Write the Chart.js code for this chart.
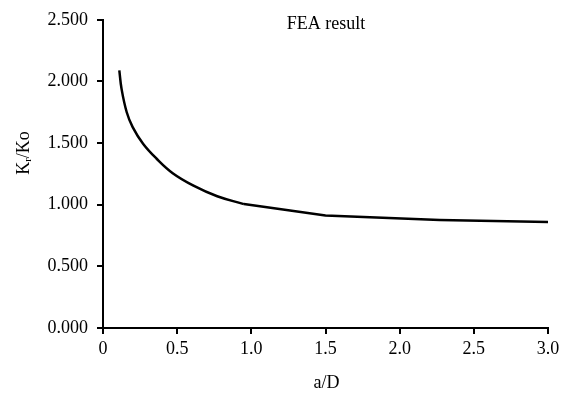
<!DOCTYPE html>
<html lang="en">
<head>
    <meta charset="UTF-8">
    <title>FEA result</title>
    <script src="https://cdn.jsdelivr.net/npm/chart.js"></script>
    <style>
        html, body { margin: 0; padding: 0; background: #fff; }
        #wrap { width: 564px; height: 396px; }
    </style>
</head>
<body>
    <div id="wrap"><canvas id="feaChart"></canvas></div>

    <script>
        // data
        const ratioAD = [0.11, 0.125, 0.16, 0.2, 0.27, 0.36, 0.47, 0.61, 0.77, 0.95, 1.5, 2.27, 3.0];
        const kRatio = [2.09, 1.94, 1.75, 1.63, 1.495, 1.375, 1.256, 1.155, 1.069, 1.005, 0.912, 0.876, 0.86];
        const xTicks = [0, 0.5, 1.0, 1.5, 2.0, 2.5, 3.0];
        const yTicks = [0, 0.5, 1.0, 1.5, 2.0, 2.5];
        // the curve is smooth up to this point, straight pieces after it
        const smoothEnd = 9;

        const serif = "'Liberation Serif', 'Times New Roman', serif";
        const pts = ratioAD.map((x, i) => ({ x: x, y: kRatio[i] }));

        // axis titles and the in-plot label, drawn by hand (subscript r)
        const labelsPlugin = {
            id: 'labels',
            afterDraw(chart) {
                const ctx = chart.ctx;
                const area = chart.chartArea;
                ctx.save();
                ctx.fillStyle = '#000';
                ctx.textBaseline = 'middle';
                ctx.textAlign = 'center';
                ctx.font = '18px ' + serif;
                ctx.fillText('FEA result', 326, 24);
                ctx.fillText('a/D', (area.left + area.right) / 2 + 1, 383);

                // y title: K_r/Ko rotated
                ctx.translate(24, 153);
                ctx.rotate(-Math.PI / 2);
                ctx.textAlign = 'left';
                const wK = ctx.measureText('K').width;
                ctx.font = '11px ' + serif;
                const wr = ctx.measureText('r').width;
                ctx.font = '18px ' + serif;
                const wRest = ctx.measureText('/Ko').width;
                let x0 = -(wK + wr + wRest) / 2;
                ctx.fillText('K', x0, 0);
                ctx.font = '11px ' + serif;
                ctx.fillText('r', x0 + wK, 4);
                ctx.font = '18px ' + serif;
                ctx.fillText('/Ko', x0 + wK + wr, 0);
                ctx.restore();
            }
        };

        const lineStyle = {
            borderColor: '#000',
            borderWidth: 2.5,
            pointRadius: 0,
            fill: false
        };

        const ctx = document.getElementById('feaChart').getContext('2d');
        new Chart(ctx, {
            type: 'line',
            data: {
                datasets: [
                    Object.assign({ data: pts.slice(0, smoothEnd + 1), tension: 0.4 }, lineStyle),
                    Object.assign({ data: pts.slice(smoothEnd), tension: 0 }, lineStyle)
                ]
            },
            options: {
                responsive: true,
                maintainAspectRatio: false,
                animation: false,
                layout: { padding: { top: 17, right: 16, left: 0, bottom: 0 } },
                plugins: {
                    legend: { display: false },
                    tooltip: { enabled: false }
                },
                scales: {
                    x: {
                        type: 'linear',
                        min: 0,
                        max: 3,
                        afterBuildTicks: (scale) => { scale.ticks = xTicks.map(v => ({ value: v })); },
                        afterFit: (scale) => { scale.height = 68; },
                        ticks: {
                            color: '#000',
                            font: { family: serif, size: 18 },
                            padding: 4,
                            maxRotation: 0,
                            callback: (v) => v === 0 ? '0' : v.toFixed(1)
                        },
                        grid: { drawOnChartArea: false, drawTicks: true, tickLength: 6, color: '#000', lineWidth: 2 },
                        border: { color: '#000', width: 2 }
                    },
                    y: {
                        min: 0,
                        max: 2.5,
                        afterBuildTicks: (scale) => { scale.ticks = yTicks.map(v => ({ value: v })); },
                        afterFit: (scale) => { scale.width = 103; },
                        ticks: {
                            color: '#000',
                            font: { family: serif, size: 18 },
                            padding: 9,
                            callback: (v) => v.toFixed(3)
                        },
                        grid: { drawOnChartArea: false, drawTicks: true, tickLength: 6, color: '#000', lineWidth: 2 },
                        border: { color: '#000', width: 2 }
                    }
                }
            },
            plugins: [labelsPlugin]
        });
    </script>
</body>
</html>
